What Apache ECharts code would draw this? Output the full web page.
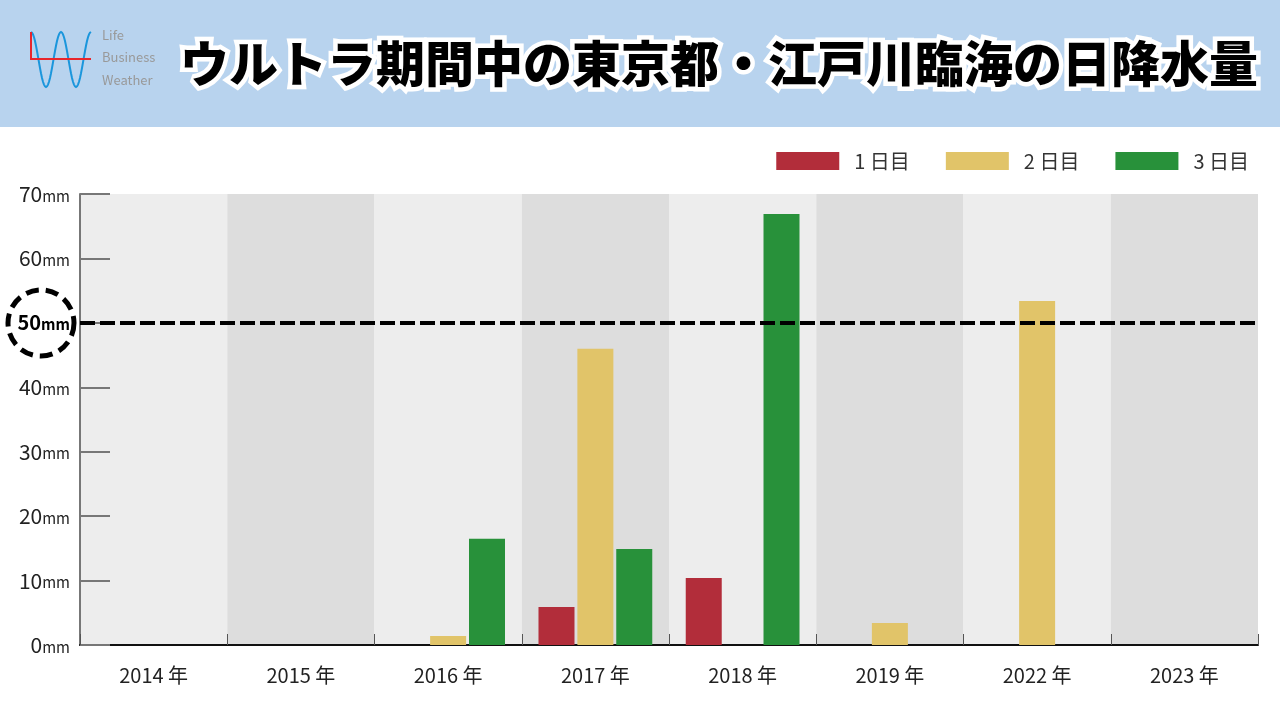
<!DOCTYPE html>
<html>
<head>
<meta charset="utf-8">
<script src="https://cdn.jsdelivr.net/npm/echarts@6/dist/echarts.min.js"></script>
<style>
html,body{margin:0;padding:0;background:#fff;}
#c{width:1280px;height:720px;}
</style>
</head>
<body>
<div id="c"></div>
<script>
const categories = ['2014 年','2015 年','2016 年','2017 年','2018 年','2019 年','2022 年','2023 年'];
const seriesNames = ['1 日目','2 日目','3 日目'];
const day1 = [0, 0, 0, 5.9, 10.4, 0, 0, 0];
const day2 = [0, 0, 1.4, 46.0, 0, 3.4, 53.4, 0];
const day3 = [0, 0, 16.5, 14.9, 66.9, 0, 0, 0];
const yTicks = [0, 10, 20, 30, 40, 50, 60, 70];
const threshold = 50;
const titleText = 'ウルトラ期間中の東京都・江戸川臨海の日降水量';

const colors = ['#b22d3a', '#e1c469', '#28913a'];
const FONT = '"Noto Sans CJK JP", "Noto Sans", sans-serif';

// logo wave (decoration)
const wave = [];
for (let i = 0; i <= 60; i++) {
  const x = 31 + i;
  const y = 59.5 - 27.5 * Math.cos(i / 60 * 4 * Math.PI);
  wave.push([x, y]);
}

const chart = echarts.init(document.getElementById('c'));
const mk = (name, data, color, extra) => Object.assign({
  name: name, type: 'bar', data: data,
  itemStyle: { color: color },
  barWidth: 36, barGap: '8%'
}, extra || {});

chart.setOption({
  animation: false,
  textStyle: { fontFamily: FONT },
  grid: { left: 80, right: 22, top: 194, bottom: 75 },
  legend: {
    data: seriesNames.map(n => ({ name: n, icon: 'rect' })),
    right: 26, top: 146,
    itemWidth: 63, itemHeight: 18, itemGap: 36,
    textStyle: { fontSize: 20, color: '#333', fontFamily: FONT, padding: [0,0,0,10] }
  },
  xAxis: {
    type: 'category', data: categories,
    axisLine: { lineStyle: { color: '#111', width: 2 } },
    axisTick: { show: true, inside: true, length: 11, lineStyle: { color: '#555' } },
    axisLabel: { fontSize: 20, color: '#222', margin: 20, fontFamily: FONT },
    splitArea: { show: true, areaStyle: { color: ['#ededed', '#dddddd'] } }
  },
  yAxis: {
    type: 'value', min: 0, max: 70, interval: 10,
    axisLine: { show: true, lineStyle: { color: '#777', width: 2 } },
    axisTick: { show: true, inside: true, length: 30, lineStyle: { color: '#777', width: 2 } },
    splitLine: { show: false },
    axisLabel: {
      margin: 10,
      formatter: v => yTicks.includes(v) ? (v === threshold ? '{bn|' + v + '}{bm|mm}' : '{n|' + v + '}{m|mm}') : '',
      rich: {
        n: { fontSize: 21, color: '#222', fontFamily: FONT },
        m: { fontSize: 15, color: '#222', fontFamily: FONT, padding: [4,0,0,0] },
        bn: { fontSize: 20, color: '#000', fontWeight: 'bold', fontFamily: FONT },
        bm: { fontSize: 15, color: '#000', fontWeight: 'bold', fontFamily: FONT, padding: [3,0,0,0] }
      }
    }
  },
  series: [
    mk(seriesNames[0], day1, colors[0]),
    mk(seriesNames[1], day2, colors[1]),
    mk(seriesNames[2], day3, colors[2], {
      markLine: {
        silent: true, symbol: 'none', label: { show: false },
        lineStyle: { color: '#000', type: [15, 5], width: 4 },
        data: [{ yAxis: threshold }]
      }
    })
  ],
  graphic: [
    { type: 'rect', shape: { x: 0, y: 0, width: 1280, height: 127 }, style: { fill: '#b8d3ee' }, z: -10 },
    { type: 'polyline', shape: { points: wave }, style: { stroke: '#1a96dc', lineWidth: 2, fill: null } },
    { type: 'polyline', shape: { points: [[31, 32], [31, 59], [91, 59]] }, style: { stroke: '#e8262c', lineWidth: 2, fill: null } },
    { type: 'text', left: 102, top: 29, style: { text: 'Life', fontSize: 13, fill: '#999', fontFamily: FONT } },
    { type: 'text', left: 102, top: 51, style: { text: 'Business', fontSize: 13, fill: '#999', fontFamily: FONT } },
    { type: 'text', left: 102, top: 74, style: { text: 'Weather', fontSize: 13, fill: '#999', fontFamily: FONT } },
    { type: 'text', x: 1258, y: 63, style: {
        text: titleText, fontSize: 49, fontWeight: 900, fill: '#000',
        stroke: '#fff', lineWidth: 9, fontFamily: FONT,
        align: 'right', verticalAlign: 'middle'
      }, z: 10 },
    { type: 'circle', shape: { cx: 41, cy: 323, r: 33 },
      style: { fill: null, stroke: '#000', lineWidth: 5, lineDash: [13, 7] }, z: 10 }
  ]
});
</script>
</body>
</html>
